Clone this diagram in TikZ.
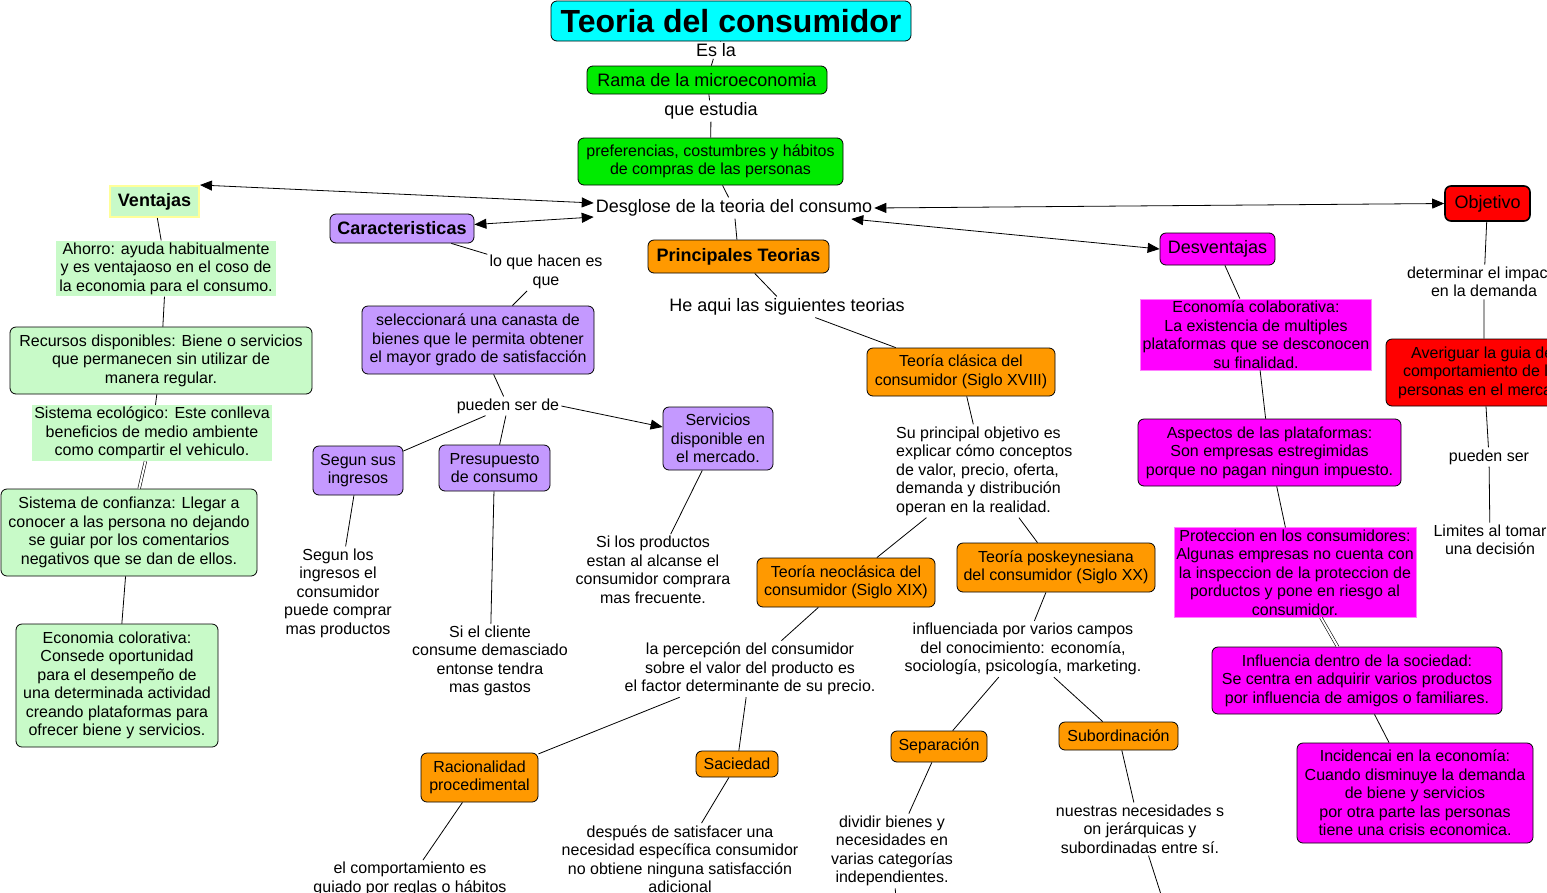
\documentclass[tikz,border=0pt]{standalone}
\usepackage{fontspec}
\setmainfont{Liberation Sans}
\usetikzlibrary{arrows.meta}
\definecolor{cian}{RGB}{0,255,255}
\definecolor{verde}{RGB}{0,235,0}
\definecolor{verdeclaro}{RGB}{200,250,200}
\definecolor{amarillo}{RGB}{255,255,153}
\definecolor{morado}{RGB}{196,153,255}
\definecolor{naranja}{RGB}{255,153,0}
\definecolor{fucsia}{RGB}{255,0,255}
\definecolor{rojo}{RGB}{255,0,0}
\newcommand{\chico}{\fontsize{16}{18.5}\selectfont}
\newcommand{\grande}{\fontsize{18}{20.5}\selectfont}

\begin{document}
\begin{tikzpicture}[x=1pt,y=-1pt]
\tikzstyle{every node}=[align=center,inner sep=2pt,font=\chico];
\tikzstyle{caja}=[draw,rounded corners=6pt,line width=0.8pt];
\tikzstyle{linea}=[line width=0.8pt];
\tikzstyle{ambas}=[linea,{Triangle[length=12pt,width=10pt]}-{Triangle[length=12pt,width=10pt]}];
\tikzstyle{doble}=[double,double distance=2pt,line width=0.6pt];
\useasboundingbox (0,0) rectangle (1547,892);

\node[caja,fill=cian,minimum width=360,minimum height=40,font=\fontsize{32}{36}\selectfont\bfseries] (titulo) at (731,21) {Teoria del consumidor};
\node[font=\grande] (esla) at (716,50) {Es la};
\node[caja,fill=verde,minimum width=240,minimum height=28,font=\grande] (rama) at (707,80) {Rama de la microeconomia};
\node[font=\grande] (estudia) at (711,111) {que estudia};
\node[caja,fill=verde,minimum width=265,minimum height=47] (pref) at (710.5,161.5) {preferencias, costumbres y hábitos\\de compras de las personas};
\node[font=\grande] (desg) at (734,208) {Desglose de la teoria del consumo};

\node[fill=verdeclaro,draw=amarillo,line width=2pt,minimum width=89,minimum height=31,font=\grande\bfseries] (vent) at (154.5,201.5) {Ventajas};
\node[fill=verdeclaro,minimum width=220,minimum height=55] (ahorro) at (166,268.5) {Ahorro: ayuda habitualmente\\y es ventajaoso en el coso de\\la economia para el consumo.};
\node[caja,fill=verdeclaro,minimum width=302,minimum height=67] (recursos) at (161,360.5) {Recursos disponibles: Biene o servicios\\que permanecen sin utilizar de\\manera regular.};
\node[fill=verdeclaro,minimum width=236,minimum height=56] (ecolog) at (152,433) {Sistema ecológico: Este conlleva\\beneficios de medio ambiente\\como compartir el vehiculo.};
\node[caja,fill=verdeclaro,minimum width=256,minimum height=87] (confianza) at (129,532.5) {Sistema de confianza: Llegar a\\conocer a las persona no dejando\\se guiar por los comentarios\\negativos que se dan de ellos.};
\node[caja,fill=verdeclaro,minimum width=202,minimum height=123] (colorativa) at (117,685.5) {Economia colorativa:\\Consede oportunidad\\para el desempeño de\\una determinada actividad\\creando plataformas para\\ofrecer biene y servicios.};

\node[caja,fill=morado,minimum width=144,minimum height=29,font=\grande\bfseries] (carac) at (402,228.5) {Caracteristicas};
\node (lohacen) at (546,272) {lo que hacen es\\que};
\node[caja,fill=morado,minimum width=232,minimum height=68] (selecc) at (478,340) {seleccionará una canasta de\\bienes que le permita obtener\\el mayor grado de satisfacción};
\node (puedende) at (508,406) {pueden ser de};
\node[caja,fill=morado,minimum width=90,minimum height=49] (ingresos) at (358,470.5) {Segun sus\\ingresos};
\node[caja,fill=morado,minimum width=111,minimum height=46] (presup) at (494.5,468) {Presupuesto\\de consumo};
\node[caja,fill=morado,minimum width=110,minimum height=63] (servicios) at (718,438.5) {Servicios\\disponible en\\el mercado.};
\node (segunlos) at (338,593) {Segun los\\ingresos el\\consumidor\\puede comprar\\mas productos};
\node (sicliente) at (490,661) {Si el cliente\\consume demasciado\\entonse tendra\\mas gastos};
\node (silos) at (653,570) {Si los productos\\estan al alcanse el\\consumidor comprara\\mas frecuente.};

\node[caja,fill=naranja,minimum width=181,minimum height=33,font=\grande\bfseries] (princ) at (738.5,256.5) {Principales Teorias};
\node[font=\grande] (heaqui) at (787,307) {He aqui las siguientes teorias};
\node[caja,fill=naranja,minimum width=188,minimum height=48] (clasica) at (961,372) {Teoría clásica del\\consumidor (Siglo XVIII)};
\node[anchor=west,align=left] (explicar) at (894,471) {Su principal objetivo es\\explicar cómo conceptos\\de valor, precio, oferta,\\demanda y distribución\\operan en la realidad.};
\node[caja,fill=naranja,minimum width=178,minimum height=49] (neo) at (846,582.5) {Teoría neoclásica del\\consumidor (Siglo XIX)};
\node[caja,fill=naranja,minimum width=198,minimum height=49] (posk) at (1056,567.5) {Teoría poskeynesiana\\del consumidor (Siglo XX)};
\node (percep) at (750,669) {la percepción del consumidor\\sobre el valor del producto es\\el factor determinante de su precio.};
\node[caja,fill=naranja,minimum width=117,minimum height=49] (racional) at (479.5,777.5) {Racionalidad\\procedimental};
\node[caja,fill=naranja,minimum width=82,minimum height=26] (saciedad) at (737,764) {Saciedad};
\node (comport) at (410,879) {el comportamiento es\\guiado por reglas o hábitos};
\node (despues) at (680,859) {después de satisfacer una\\necesidad específica consumidor\\no obtiene ninguna satisfacción\\adicional};
\node (influ) at (1023,649) {influenciada por varios campos\\del conocimiento: economía,\\sociología, psicología, marketing.};
\node[caja,fill=naranja,minimum width=96,minimum height=31] (separ) at (939,746.5) {Separación};
\node[caja,fill=naranja,minimum width=119,minimum height=28] (subord) at (1118.5,736) {Subordinación};
\node (dividir) at (892,851) {dividir bienes y\\necesidades en\\varias categorías\\independientes.};
\node (nuestras) at (1140,829) {nuestras necesidades s\\on jerárquicas y\\subordinadas entre sí.};
\coordinate (finA) at (897,910);
\coordinate (finB) at (1166,910);

\node[caja,fill=fucsia,minimum width=115,minimum height=32,font=\grande] (desv) at (1217.5,249) {Desventajas};
\node[fill=fucsia,draw=fucsia!50!white,minimum width=228,minimum height=69] (colab) at (1256,334.5) {Economía colaborativa:\\La existencia de multiples\\plataformas que se desconocen\\su finalidad.};
\node[caja,fill=fucsia,minimum width=263,minimum height=67] (aspectos) at (1269.5,452.5) {Aspectos de las plataformas:\\Son empresas estregimidas\\porque no pagan ningun impuesto.};
\node[fill=fucsia,draw=fucsia!50!white,minimum width=240,minimum height=87] (protec) at (1295,572.5) {Proteccion en los consumidores:\\Algunas empresas no cuenta con\\la inspeccion de la proteccion de\\porductos y pone en riesgo al\\consumidor.};
\node[caja,fill=fucsia,minimum width=290,minimum height=67] (influencia) at (1357,680.5) {Influencia dentro de la sociedad:\\Se centra en adquirir varios productos\\por influencia de amigos o familiares.};
\node[caja,fill=fucsia,minimum width=236,minimum height=100] (incid) at (1415,793) {Incidencai en la economía:\\Cuando disminuye la demanda\\de biene y servicios\\por otra parte las personas\\tiene una crisis economica.};

\node[caja,fill=rojo,line width=1.6pt,minimum width=85,minimum height=35,font=\grande] (obj) at (1487.5,203.5) {Objetivo};
\node (determinar) at (1484,282) {determinar el impacto\\en la demanda};
\node[caja,fill=rojo,minimum width=196,minimum height=67] (averiguar) at (1484,372.5) {Averiguar la guia del\\comportamiento de las\\personas en el mercado};
\node (puedenser) at (1489,457) {pueden ser};
\node (limites) at (1490,540) {Limites al tomar\\una decisión};

\draw[linea] (titulo) -- (esla) -- (rama) -- (estudia) -- (pref) -- (desg) -- (princ) -- (heaqui) -- (clasica) -- (explicar) -- (neo) -- (percep) -- (racional) -- (comport);
\draw[linea] (percep) -- (saciedad) -- (despues);
\draw[linea] (explicar) -- (posk) -- (influ) -- (separ) -- (dividir) -- (finA);
\draw[linea] (influ) -- (subord) -- (nuestras) -- (finB);
\draw[linea] (vent) -- (ahorro) -- (recursos) -- (ecolog);
\draw[doble] (ecolog) -- (confianza);
\draw[linea] (confianza) -- (colorativa);
\draw[linea] (carac) -- (lohacen) -- (selecc) -- (puedende) -- (ingresos) -- (segunlos);
\draw[linea] (puedende) -- (presup) -- (sicliente);
\draw[linea,-{Triangle[length=12pt,width=10pt]}] (puedende.east) -- (servicios);
\draw[linea] (servicios) -- (silos);
\draw[linea] (desv) -- (colab) -- (aspectos) -- (protec);
\draw[doble] (protec) -- (influencia);
\draw[linea] (influencia) -- (incid);
\draw[linea] (obj) -- (determinar) -- (averiguar) -- (puedenser) -- (limites);
\draw[ambas] ([yshift=5pt]desg.west) -- (vent.north east);
\draw[ambas] ([yshift=-9pt]desg.west) -- ([yshift=4pt]carac.east);
\draw[ambas] (desg.east) -- (obj.west);
\draw[ambas] ([xshift=-23pt,yshift=-11pt]desg.east) -- (desv.west);
\end{tikzpicture}
\end{document}
